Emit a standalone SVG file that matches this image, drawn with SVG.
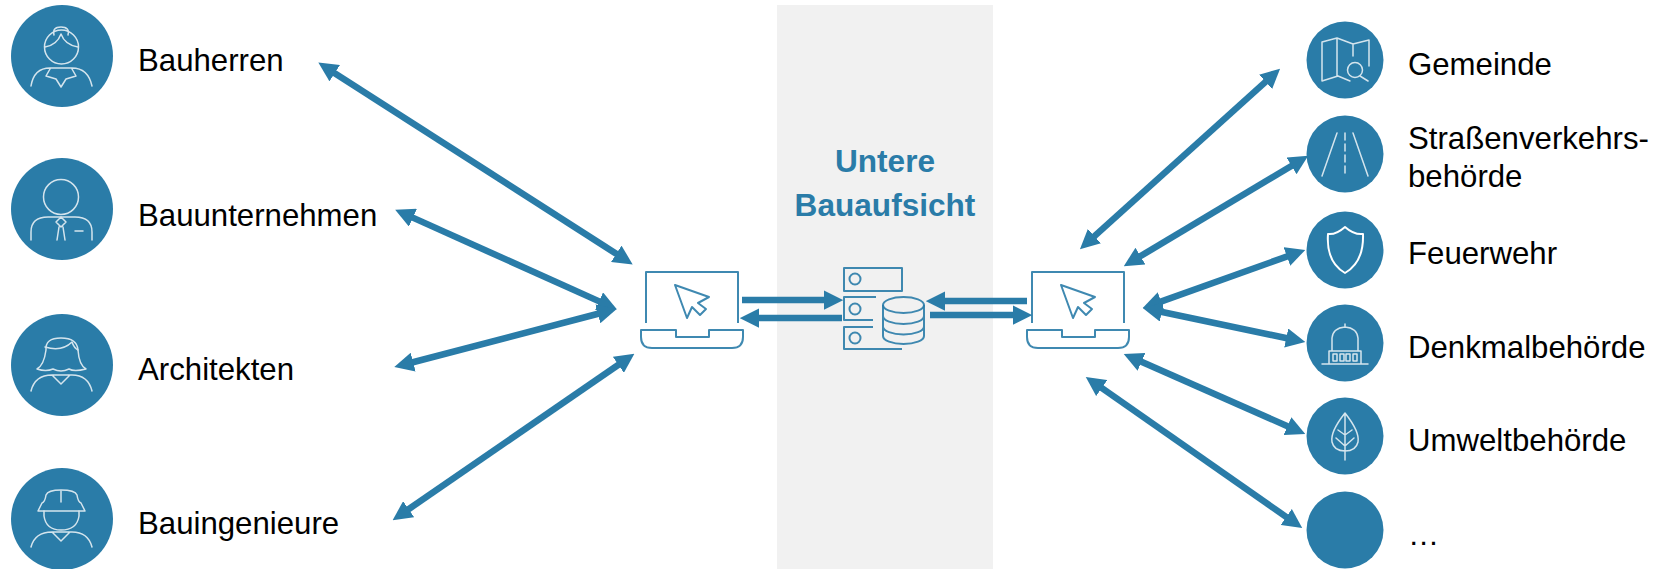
<svg xmlns="http://www.w3.org/2000/svg" width="1657" height="569" viewBox="0 0 1657 569">
<style>
.lbl{font-family:"Liberation Sans",Arial,sans-serif;font-size:31.2px;fill:#000}
.ttl{font-family:"Liberation Sans",Arial,sans-serif;font-size:31.6px;font-weight:700;fill:#2a7ca8;text-anchor:middle}
.disc{fill:#2a7ca8}
.ic{fill:none;stroke:#fff;stroke-width:1.5;stroke-linejoin:round;stroke-linecap:round;opacity:.8}
.ln{fill:none;stroke:#2a7ca8;stroke-width:2;stroke-linejoin:round;opacity:.9}
.cx{stroke:#2a7ca8;stroke-width:6.5;fill:none}
.ah{fill:#2a7ca8;stroke:none}
</style>
<defs>
<marker id="a" viewBox="0 0 3 3" refX="0.5" refY="1.5" markerWidth="3" markerHeight="3" orient="auto-start-reverse" markerUnits="strokeWidth"><path class="ah" d="M0 0L3 1.5L0 3z"/></marker>
<g id="lap">
<path class="ln" d="M0 51V0H92V51"/>
<path class="ln" d="M-5 58H30V65H63V58H97V65Q97 76 86 76H6Q-5 76 -5 65Z"/>
<path class="ln" d="M29 13L63 25L52 31L60 37L54 43L46 35L41 46Z"/>
</g>
</defs>
<rect x="777" y="5" width="216" height="564" fill="#f1f1f1"/>
<text class="ttl" x="885" y="172">Untere</text>
<text class="ttl" x="885" y="216">Bauaufsicht</text>
<g id="connectors" class="cx">
<path marker-start="url(#a)" marker-end="url(#a)" d="M332 71.4L619 255.6"/>
<path marker-start="url(#a)" marker-end="url(#a)" d="M410 216.4L602 302.6"/>
<path marker-start="url(#a)" marker-end="url(#a)" d="M410 363L601 313"/>
<path marker-start="url(#a)" marker-end="url(#a)" d="M406 511L621 363"/>
<path marker-end="url(#a)" d="M742 300H827"/>
<path marker-end="url(#a)" d="M842 318H756"/>
<path marker-end="url(#a)" d="M1027 301H942"/>
<path marker-end="url(#a)" d="M930 315H1016"/>
<path marker-start="url(#a)" marker-end="url(#a)" d="M1268 79.7L1092 238.3"/>
<path marker-start="url(#a)" marker-end="url(#a)" d="M1294.3 164.2L1137.7 257.8"/>
<path marker-start="url(#a)" marker-end="url(#a)" d="M1290 255.4L1158 302.6"/>
<path marker-start="url(#a)" marker-end="url(#a)" d="M1289.4 338.7L1158.6 311.3"/>
<path marker-start="url(#a)" marker-end="url(#a)" d="M1290.4 427.5L1138.6 360.5"/>
<path marker-start="url(#a)" marker-end="url(#a)" d="M1288.9 518.8L1099.1 386.2"/>
</g>
<g id="laptop-left"><use href="#lap" x="646" y="272"/></g>
<g id="laptop-right"><use href="#lap" x="1032" y="272"/></g>
<g id="server">
<path class="ln" d="M844 268H902V291H844Z"/>
<path class="ln" d="M876 297H844V320H873"/>
<path class="ln" d="M873 327H844V349H902"/>
<circle class="ln" cx="855" cy="279" r="5.5"/><circle class="ln" cx="855" cy="309" r="5.5"/><circle class="ln" cx="855" cy="338" r="5.5"/>
<ellipse class="ln" cx="903.5" cy="305" rx="20.5" ry="8"/>
<path class="ln" d="M883 305V336A20.5 8 0 0 0 924 336V305M883 316A20.5 8 0 0 0 924 316M883 326.5A20.5 8 0 0 0 924 326.5"/>
</g>
<g id="bauherren">
<circle class="disc" cx="62" cy="56" r="51"/>
<g class="ic"><circle cx="61.5" cy="47" r="17"/><path d="M45 47Q57 45 61 34Q65 45 78 47M54 35Q52 27 61 27Q70 27 68 35"/><path d="M31 86Q34 68 50 68H72Q88 68 92 86M50 69L46 76L56 79L61 87L66 79L76 76L72 69"/></g>
<text class="lbl" x="138" y="71">Bauherren</text>
</g>
<g id="bauunternehmen">
<circle class="disc" cx="62" cy="209" r="51"/>
<g class="ic"><circle cx="61" cy="197" r="17.5"/><path d="M31 240V232Q31 217 48 217H75Q92 217 92 232V240"/><path d="M56 222L61 217L66 222L61 227ZM59 227L57 240M63 227L65 240M75 231H83"/></g>
<text class="lbl" x="138" y="226">Bauunternehmen</text>
</g>
<g id="architekten">
<circle class="disc" cx="62" cy="365" r="51"/>
<g class="ic"><path d="M37 369Q44 365 46 350Q45 338 61 338Q77 338 78 350Q79 365 86 369Q74 372 69 369Q61 373 53 369Q46 372 37 369Z"/><path d="M45 347Q62 352 72 342Q74 348 78 350"/><path d="M31 391Q35 375 52 375H72Q88 375 92 391M52 375L61 384L70 375"/></g>
<text class="lbl" x="138" y="380">Architekten</text>
</g>
<g id="bauingenieure">
<circle class="disc" cx="62" cy="519" r="51"/>
<g class="ic"><path d="M38 511L42 503Q45 502 46 495Q48 490 61 490Q75 490 77 495Q78 502 81 503L85 511Z"/><path d="M61 491V502M44 511V516Q46 530 61 530Q77 530 79 516V511"/><path d="M31 547Q35 532 52 532H72Q88 532 92 547M52 532L61 541L70 532"/></g>
<text class="lbl" x="138" y="534">Bauingenieure</text>
</g>
<g id="gemeinde">
<circle class="disc" cx="1345" cy="60" r="38.5"/>
<g class="ic"><path d="M1337 38L1322 42V81L1338 76L1350 81M1337 38V76M1337 38L1353 44L1369 40V66M1353 44V56"/><circle cx="1355" cy="70" r="7.5"/><path d="M1360 76L1368 81"/></g>
<text class="lbl" x="1408" y="75">Gemeinde</text>
</g>
<g id="strassen">
<circle class="disc" cx="1345" cy="154" r="38.5"/>
<g class="ic"><path d="M1337 133L1322 176M1353 133L1368 176"/><path d="M1345 133V176" stroke-dasharray="7 4"/></g>
<text class="lbl" x="1408" y="149">Straßenverkehrs-</text>
<text class="lbl" x="1408" y="187">behörde</text>
</g>
<g id="feuerwehr">
<circle class="disc" cx="1345" cy="250" r="38.5"/>
<g class="ic" style="stroke-width:2;opacity:1"><path d="M1345 227Q1336 235 1328 234Q1326 262 1345 273Q1364 262 1363 234Q1354 235 1345 227Z"/></g>
<text class="lbl" x="1408" y="264">Feuerwehr</text>
</g>
<g id="denkmal">
<circle class="disc" cx="1345" cy="343" r="38.5"/>
<g class="ic"><path d="M1322 364H1368M1329 364V351H1361V364M1332 351V338Q1333 328 1345 327Q1357 328 1358 338V351M1345 327V324"/><path d="M1333 354h4v7h-4zM1340 354h4v7h-4zM1346 354h4v7h-4zM1353 354h4v7h-4z"/></g>
<text class="lbl" x="1408" y="358">Denkmalbehörde</text>
</g>
<g id="umwelt">
<circle class="disc" cx="1345" cy="436" r="38.5"/>
<g class="ic"><path d="M1345 413Q1330 432 1332 442Q1334 451 1345 451Q1356 451 1358 442Q1360 432 1345 413ZM1345 415V460M1338 430L1345 435L1352 430M1336 438L1345 446L1354 438"/></g>
<text class="lbl" x="1408" y="451">Umweltbehörde</text>
</g>
<g id="more">
<circle class="disc" cx="1345" cy="530" r="38.5"/>
<text class="lbl" x="1408" y="545">…</text>
</g>
</svg>
